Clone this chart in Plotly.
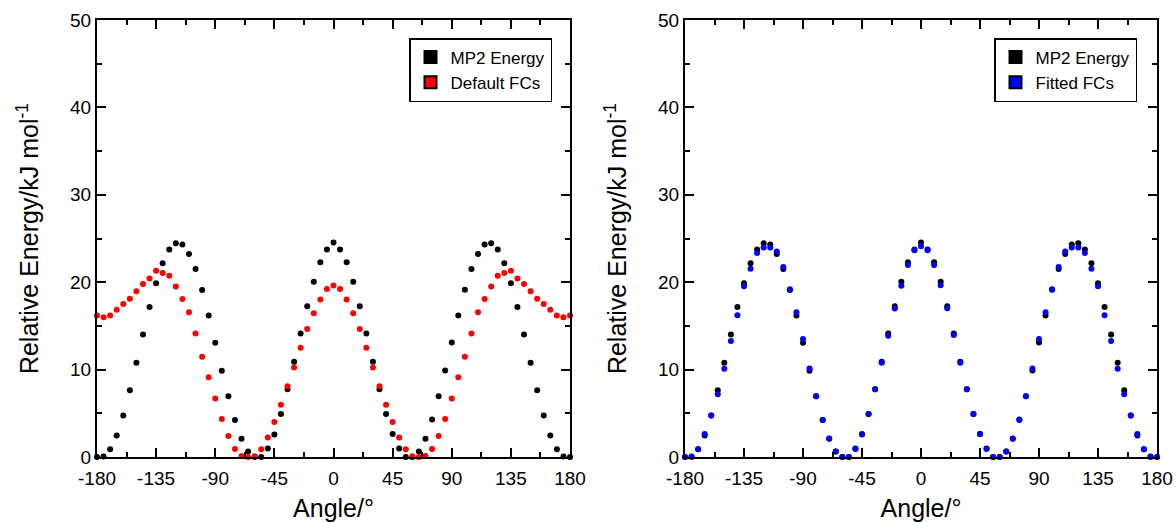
import plotly.graph_objects as go
from plotly.subplots import make_subplots

angles = list(range(-180, 181, 5))

mp2_energy = [0.0, 0.05, 0.89, 2.47, 4.74, 7.63, 10.79, 14.03, 17.15, 19.88, 22.16, 23.74, 24.47, 24.32,
              23.24, 21.50, 19.11, 16.18, 13.06, 9.87, 6.94, 4.24, 2.08, 0.62, 0.0, 0.0, 0.96, 2.58, 4.93,
              7.75, 10.90, 14.14, 17.26, 20.04, 22.27, 23.74, 24.55, 23.74, 22.27, 20.04, 17.26, 14.14,
              10.90, 7.75, 4.93, 2.62, 0.96, 0.0, 0.0, 0.62, 2.08, 4.28, 6.94, 9.90, 13.10, 16.20, 19.15,
              21.50, 23.24, 24.32, 24.47, 23.74, 22.16, 19.88, 17.15, 14.03, 10.79, 7.63, 4.74, 2.47,
              0.89, 0.05, 0.0]

default_fcs = [16.18, 15.99, 16.18, 16.84, 17.50, 18.11, 18.96, 19.80, 20.42, 21.31, 21.04, 20.73, 19.50,
               18.07, 16.57, 14.14, 11.48, 9.13, 6.70, 4.35, 2.39, 0.92, 0.12, 0.0, 0.08, 0.89, 2.24,
               4.00, 5.97, 8.09, 10.25, 12.49, 14.64, 16.45, 18.03, 19.23, 19.61, 19.23, 18.03, 16.45,
               14.64, 12.49, 10.25, 8.09, 5.97, 4.00, 2.24, 0.89, 0.08, 0.0, 0.12, 0.92, 2.39, 4.35,
               6.70, 9.13, 11.48, 14.14, 16.57, 18.07, 19.50, 20.73, 21.04, 21.31, 20.42, 19.80, 18.96,
               18.11, 17.50, 16.84, 16.18, 15.99, 16.18]

fitted_fcs = [0.0, 0.0, 0.89, 2.62, 4.74, 7.17, 10.10, 13.26, 16.22, 19.54, 21.54, 23.35, 23.97, 23.97,
              23.50, 21.73, 19.19, 16.57, 13.49, 10.13, 6.94, 4.24, 2.12, 0.62, 0.0, 0.0, 0.92, 2.62,
              4.93, 7.75, 10.79, 13.87, 16.99, 19.58, 21.97, 23.66, 24.12, 23.66, 21.97, 19.65, 17.03,
              13.95, 10.79, 7.75, 4.93, 2.62, 0.92, 0.0, 0.0, 0.62, 2.12, 4.24, 6.94, 10.13, 13.49,
              16.57, 19.19, 21.73, 23.50, 23.97, 23.97, 23.35, 21.54, 19.54, 16.22, 13.26, 10.10, 7.17,
              4.74, 2.62, 0.89, 0.0, 0.0]

x_tick_vals = [-180, -135, -90, -45, 0, 45, 90, 135, 180]
x_tick_text = ["-180", "-135", "-90", "-45", "0", "45", "90", "135", "180"]
y_tick_vals = [0, 10, 20, 30, 40, 50]

FONT = "Liberation Sans, Arial, Helvetica, sans-serif"

fig = make_subplots(rows=1, cols=2, horizontal_spacing=0.1086)

W, H = 1176, 522
ML, MR, MT, MB = 97, 19, 20, 65
pw = W - ML - MR
fig.update_layout(
    width=W, height=H,
    margin=dict(l=ML, r=MR, t=MT, b=MB),
    paper_bgcolor="white", plot_bgcolor="white",
    font=dict(family=FONT, color="black"),
    showlegend=True,
)
fig.update_xaxes(domain=[0, (570 - ML) / pw], row=1, col=1)
fig.update_xaxes(domain=[(685 - ML) / pw, 1], row=1, col=2)

# data traces
fig.add_trace(go.Scatter(x=angles, y=mp2_energy, mode="markers", showlegend=False, cliponaxis=False,
                         marker=dict(color="black", size=6)), row=1, col=1)
fig.add_trace(go.Scatter(x=angles, y=default_fcs, mode="markers", showlegend=False, cliponaxis=False,
                         marker=dict(color="#ff0000", size=6)), row=1, col=1)
fig.add_trace(go.Scatter(x=angles, y=mp2_energy, mode="markers", showlegend=False, cliponaxis=False,
                         marker=dict(color="black", size=6)), row=1, col=2)
fig.add_trace(go.Scatter(x=angles, y=fitted_fcs, mode="markers", showlegend=False, cliponaxis=False,
                         marker=dict(color="#0000ff", size=6)), row=1, col=2)

# legend swatches
def swatch(name, color, legend):
    return go.Scatter(x=[None], y=[None], mode="markers", name=name, legend=legend,
                      marker=dict(symbol="square", color=color, size=14,
                                  line=dict(color="black", width=1)))

fig.add_trace(swatch("MP2 Energy", "black", "legend"), row=1, col=1)
fig.add_trace(swatch("Default FCs", "#ff0000", "legend"), row=1, col=1)
fig.add_trace(swatch("MP2 Energy", "black", "legend2"), row=1, col=2)
fig.add_trace(swatch("Fitted FCs", "#0000ff", "legend2"), row=1, col=2)

leg_common = dict(bgcolor="white", bordercolor="black", borderwidth=1.5,
                  font=dict(family=FONT, size=17, color="black"),
                  xanchor="right", yanchor="top", tracegroupgap=0, itemsizing="constant",
                  itemwidth=30)
fig.update_layout(
    legend=dict(x=(552 - ML) / pw, y=(457 - 38) / (H - MT - MB), **leg_common),
    legend2=dict(x=(1137 - ML) / pw, y=(457 - 38) / (H - MT - MB), **leg_common),
)

axis_common = dict(showline=True, linecolor="black", linewidth=2, mirror="ticks",
                   ticks="inside", ticklen=9, tickwidth=2, tickcolor="black",
                   showgrid=False, zeroline=False, automargin=False,
                   tickfont=dict(family=FONT, size=19, color="black"))

for c in (1, 2):
    fig.update_xaxes(range=[-180, 180], tickmode="array", tickvals=x_tick_vals, ticktext=x_tick_text,
                     ticklabelstandoff=3,
                     minor=dict(dtick=22.5, tick0=0, ticks="inside", ticklen=5, tickwidth=2,
                                tickcolor="black", showgrid=False),
                     title=dict(text="Angle/°", font=dict(family=FONT, size=25, color="black"),
                                standoff=13),
                     **axis_common, row=1, col=c)
    fig.update_yaxes(range=[0, 50], tickmode="array", tickvals=y_tick_vals,
                     minor=dict(dtick=5, tick0=0, ticks="inside", ticklen=5, tickwidth=2,
                                tickcolor="black", showgrid=False),
                     title=dict(text="Relative Energy/kJ mol<sup>-1</sup>",
                                font=dict(family=FONT, size=25, color="black"), standoff=24),
                     **axis_common, row=1, col=c)

fig.write_html("out.html")
